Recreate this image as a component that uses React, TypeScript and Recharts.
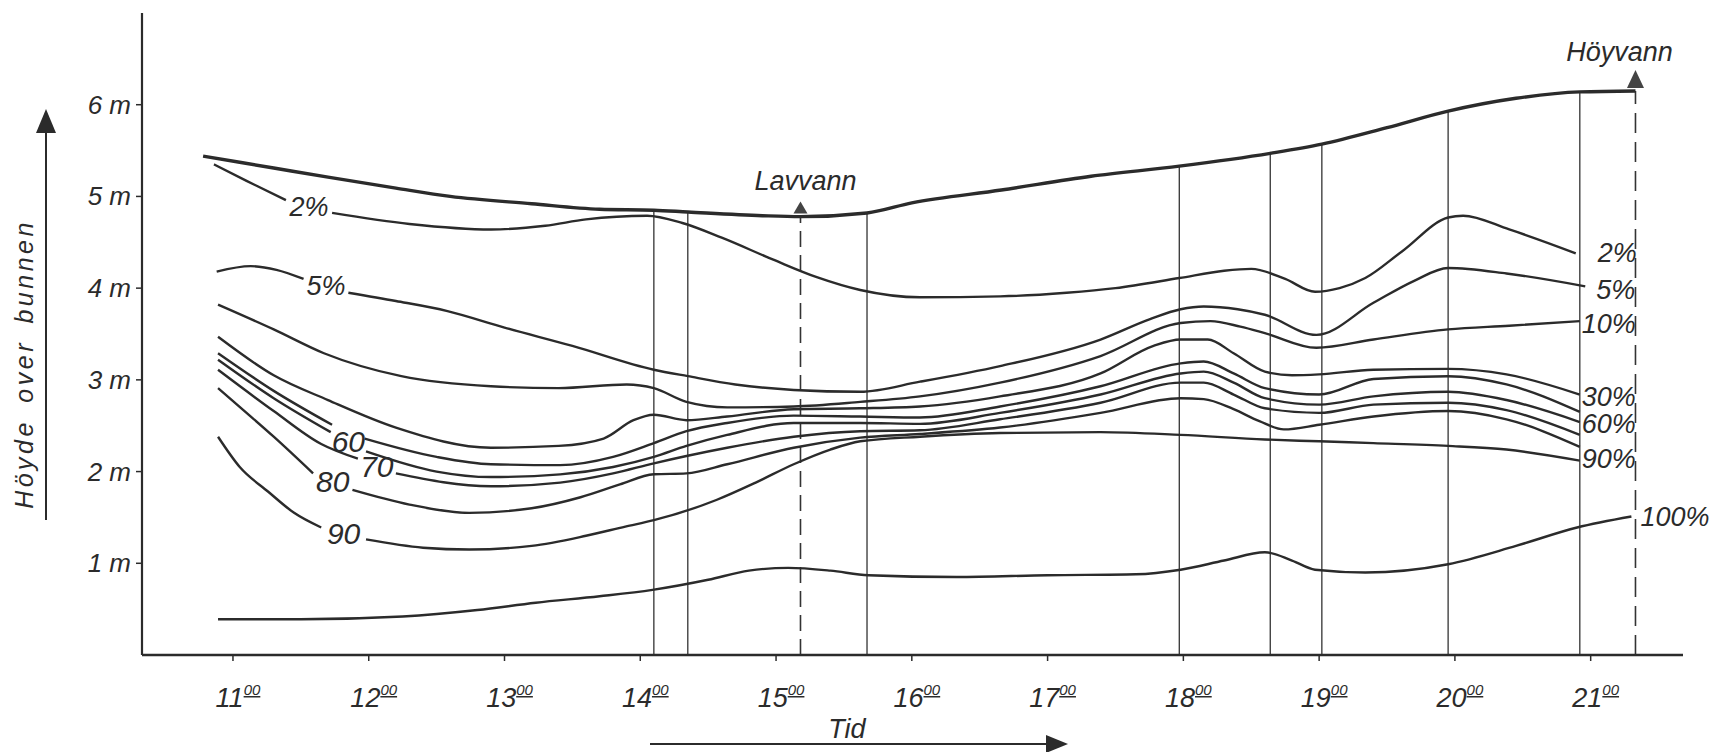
import React from 'react';
import { LineChart, Line, XAxis, YAxis, ReferenceLine, ReferenceDot } from 'recharts';

type Pt = [number, number | null];

// time (decimal hours), height over the bottom (m); null = break in the line for a label
const hourTicks = [11, 12, 13, 14, 15, 16, 17, 18, 19, 20, 21];
const meterTicks = [1, 2, 3, 4, 5, 6];

const vannflate: Pt[] = [
  [10.78, 5.44], [11.3, 5.31], [11.7, 5.21], [12.2, 5.09], [12.6, 5.0], [13.2, 4.92], [13.7, 4.86],
  [14.1, 4.85], [14.35, 4.83], [14.9, 4.79], [15.18, 4.78], [15.67, 4.82], [16.0, 4.93], [16.66, 5.07],
  [17.32, 5.22], [17.97, 5.33], [18.64, 5.47], [19.02, 5.57], [19.5, 5.75], [19.95, 5.93], [20.45, 6.07],
  [20.92, 6.14], [21.33, 6.15],
];

const p2: Pt[] = [
  [10.86, 5.35], [11.1, 5.17], [11.39, 4.96], [11.56, null], [11.73, 4.82], [12.3, 4.7], [12.9, 4.64],
  [13.3, 4.68], [13.6, 4.75], [14.05, 4.79], [14.31, 4.71], [14.6, 4.55], [14.98, 4.31], [15.3, 4.12],
  [15.62, 3.98], [16.06, 3.9], [16.65, 3.91], [17.14, 3.95], [17.5, 4.0], [17.97, 4.11], [18.3, 4.19],
  [18.5, 4.21], [18.75, 4.1], [18.97, 3.96], [19.15, 4.0], [19.34, 4.11], [19.61, 4.4], [19.95, 4.77],
  [20.06, 4.79], [20.4, 4.64], [20.89, 4.38],
];

const p5: Pt[] = [
  [10.88, 4.18], [11.13, 4.24], [11.32, 4.2], [11.52, 4.1], [11.68, null], [11.85, 3.95], [12.2, 3.86],
  [12.58, 3.75], [13.0, 3.57], [13.5, 3.37], [14.1, 3.11], [14.35, 3.04], [14.7, 2.95], [15.13, 2.89],
  [15.62, 2.87], [16.06, 2.98], [16.65, 3.15], [17.39, 3.44], [17.75, 3.66], [17.98, 3.77], [18.15, 3.8],
  [18.4, 3.77], [18.6, 3.71], [18.98, 3.49], [19.4, 3.84], [19.7, 4.08], [19.95, 4.22], [20.38, 4.16],
  [20.96, 4.02],
];

const p10: Pt[] = [
  [10.89, 3.82], [11.3, 3.55], [11.67, 3.29], [12.24, 3.04], [12.9, 2.93], [13.4, 2.91], [13.9, 2.95],
  [14.1, 2.91], [14.34, 2.76], [14.64, 2.7], [15.13, 2.71], [15.62, 2.76], [16.06, 2.82], [16.65, 2.97],
  [17.39, 3.26], [17.98, 3.62], [18.2, 3.64], [18.42, 3.58], [18.6, 3.51], [18.98, 3.35], [19.4, 3.44],
  [19.95, 3.55], [20.4, 3.59], [20.92, 3.64],
];

const p30: Pt[] = [
  [10.89, 3.47], [11.3, 3.05], [11.7, 2.78], [12.2, 2.48], [12.9, 2.26], [13.4, 2.28], [13.73, 2.36],
  [13.95, 2.56], [14.1, 2.62], [14.34, 2.56], [14.64, 2.6], [15.13, 2.68], [15.62, 2.69], [16.06, 2.71],
  [16.65, 2.82], [17.39, 3.07], [17.78, 3.37], [17.98, 3.44], [18.18, 3.44], [18.37, 3.29], [18.6, 3.09],
  [18.8, 3.05], [19.0, 3.06], [19.4, 3.11], [19.95, 3.12], [20.38, 3.06], [20.92, 2.84],
];

const p50: Pt[] = [
  [10.89, 3.29], [11.3, 2.88], [11.73, 2.51], [11.85, null], [11.97, 2.36], [12.5, 2.16], [12.9, 2.08],
  [13.41, 2.07], [13.8, 2.16], [14.1, 2.31], [14.34, 2.44], [14.64, 2.53], [15.13, 2.61], [15.62, 2.6],
  [16.06, 2.59], [16.65, 2.71], [17.39, 2.93], [17.98, 3.18], [18.15, 3.2], [18.37, 3.07], [18.6, 2.91],
  [19.0, 2.84], [19.4, 3.01], [19.95, 3.04], [20.38, 2.95], [20.92, 2.65],
];

const p60: Pt[] = [
  [10.89, 3.22], [11.3, 2.8], [11.72, 2.43], [11.85, null], [11.98, 2.22], [12.5, 2.0], [12.9, 1.94],
  [13.41, 1.97], [13.8, 2.05], [14.1, 2.16], [14.34, 2.28], [14.64, 2.4], [15.13, 2.53], [15.62, 2.53],
  [16.06, 2.52], [16.65, 2.64], [17.39, 2.84], [17.98, 3.07], [18.15, 3.09], [18.37, 2.97], [18.6, 2.8],
  [19.0, 2.73], [19.4, 2.82], [19.95, 2.87], [20.38, 2.78], [20.92, 2.54],
];

const p70: Pt[] = [
  [10.89, 3.11], [11.3, 2.66], [11.65, 2.3], [11.92, 2.14], [12.06, null], [12.2, 1.98], [12.9, 1.84],
  [13.41, 1.88], [13.8, 1.98], [14.1, 2.09], [14.34, 2.17], [14.64, 2.26], [15.13, 2.38], [15.62, 2.44],
  [16.06, 2.45], [16.65, 2.57], [17.39, 2.75], [17.98, 2.97], [18.15, 2.97], [18.37, 2.84], [18.6, 2.69],
  [19.0, 2.64], [19.4, 2.73], [19.95, 2.75], [20.38, 2.67], [20.92, 2.4],
];

const p80: Pt[] = [
  [10.89, 2.91], [11.1, 2.64], [11.3, 2.38], [11.59, 1.98], [11.73, null], [11.88, 1.8], [12.3, 1.64],
  [12.74, 1.55], [13.2, 1.6], [13.56, 1.72], [13.85, 1.86], [14.1, 1.97], [14.34, 1.98], [14.64, 2.08],
  [15.13, 2.26], [15.62, 2.37], [16.06, 2.41], [16.65, 2.48], [17.39, 2.64], [17.98, 2.8], [18.15, 2.79],
  [18.37, 2.68], [18.56, 2.55], [18.74, 2.46], [19.0, 2.51], [19.4, 2.6], [19.95, 2.66], [20.38, 2.57],
  [20.92, 2.27],
];

const p90: Pt[] = [
  [10.89, 2.38], [11.05, 2.05], [11.26, 1.78], [11.45, 1.55], [11.65, 1.39], [11.81, null], [11.98, 1.26],
  [12.4, 1.17], [12.74, 1.15], [13.2, 1.19], [13.6, 1.3], [13.89, 1.4], [14.1, 1.47], [14.56, 1.69],
  [14.85, 1.88], [15.13, 2.08], [15.4, 2.24], [15.62, 2.33], [16.06, 2.38], [16.65, 2.42], [17.39, 2.43],
  [17.98, 2.4], [18.6, 2.35], [19.0, 2.33], [19.4, 2.31], [19.95, 2.28], [20.38, 2.24], [20.92, 2.12],
];

const p100: Pt[] = [
  [10.89, 0.39], [11.5, 0.39], [12.25, 0.42], [12.8, 0.49], [13.23, 0.57], [13.7, 0.64], [14.09, 0.71],
  [14.5, 0.82], [14.8, 0.92], [15.09, 0.95], [15.4, 0.92], [15.68, 0.87], [16.33, 0.85], [17.0, 0.87],
  [17.65, 0.88], [17.98, 0.93], [18.3, 1.03], [18.6, 1.12], [18.8, 1.03], [18.97, 0.93], [19.34, 0.9],
  [19.95, 0.99], [20.45, 1.19], [20.9, 1.39], [21.3, 1.51],
];

// sounding times (vertical lines)
const lodninger = [14.1, 14.35, 15.18, 15.67, 17.97, 18.64, 19.02, 19.95, 20.92, 21.33];
const lavvannTid = 15.18;
const hoyvannTid = 21.33;

const FONT = "'Liberation Sans', Arial, sans-serif";
const INK = '#2b2b2b';

type Serie = {
  key: string;
  pts: Pt[];
  width?: number;
  gapLabel?: string;
  endLabel?: string;
  endDx?: number;
  endDy?: number;
};

const series: Serie[] = [
  { key: 'flate', pts: vannflate, width: 3.4 },
  { key: 'p2', pts: p2, gapLabel: '2%', endLabel: '2%', endDx: 22 },
  { key: 'p5', pts: p5, gapLabel: '5%', endLabel: '5%', endDx: 11, endDy: 4 },
  { key: 'p10', pts: p10, endLabel: '10%', endDx: 2, endDy: 3 },
  { key: 'p30', pts: p30, endLabel: '30%', endDx: 2, endDy: 2 },
  { key: 'p50', pts: p50 },
  { key: 'p60', pts: p60, gapLabel: '60', endLabel: '60%', endDx: 2, endDy: 2 },
  { key: 'p70', pts: p70, gapLabel: '70' },
  { key: 'p80', pts: p80, gapLabel: '80' },
  { key: 'p90', pts: p90, gapLabel: '90', endLabel: '90%', endDx: 2, endDy: -2 },
  { key: 'p100', pts: p100, endLabel: '100%', endDx: 9 },
];

const rows = (pts: Pt[]) => pts.map(([t, h]) => ({ t, h }));

const surfaceAt = (t: number) => {
  const hit = vannflate.find((p) => p[0] === t);
  if (hit) return hit[1] as number;
  for (let i = 1; i < vannflate.length; i++) {
    const [t0, h0] = vannflate[i - 1];
    const [t1, h1] = vannflate[i];
    if (t >= t0 && t <= t1) return (h0 as number) + (((h1 as number) - (h0 as number)) * (t - t0)) / (t1 - t0);
  }
  return vannflate[vannflate.length - 1][1] as number;
};

const gapPoint = (pts: Pt[]) => {
  const i = pts.findIndex((p) => p[1] === null);
  const a = pts[i - 1];
  const b = pts[i + 1];
  return { t: (a[0] + b[0]) / 2, h: ((a[1] as number) + (b[1] as number)) / 2 };
};

const HourTick = (props: any) => {
  const { x, y, payload } = props;
  return (
    <text x={x + 5} y={y + 44} textAnchor="middle" fontFamily={FONT} fontStyle="italic" fontSize={27} fill={INK}>
      {payload.value}
      <tspan fontSize={15} dy={-12} textDecoration="underline">00</tspan>
    </text>
  );
};

const MeterTick = (props: any) => {
  const { x, y, payload } = props;
  return (
    <text x={x - 3} y={y} textAnchor="end" dominantBaseline="central" fontFamily={FONT} fontStyle="italic" fontSize={26} fill={INK}>
      {payload.value} m
    </text>
  );
};

const YTitle = (props: any) => {
  const vb = props.viewBox || { x: 82, y: 13, height: 642 };
  const tx = vb.x - 58;
  const ax = vb.x - 36;
  return (
    <g>
      <text
        x={tx}
        y={364}
        transform={`rotate(-90, ${tx}, 364)`}
        textAnchor="middle"
        dominantBaseline="central"
        fontFamily={FONT}
        fontStyle="italic"
        fontSize={25}
        letterSpacing={3.5}
        wordSpacing={6}
        fill={INK}
      >
        Höyde over bunnen
      </text>
      <line x1={ax} y1={520} x2={ax} y2={132} stroke={INK} strokeWidth={2} />
      <path d={`M${ax - 10},${133} L${ax + 10},${133} L${ax},${109} Z`} fill={INK} />
    </g>
  );
};

const XTitle = (props: any) => {
  const vb = props.viewBox || { x: 142, y: 655, width: 1541 };
  const x0 = vb.x + 508;
  const x1 = vb.x + 906;
  const ly = vb.y + 89;
  return (
    <g>
      <text x={vb.x + 705} y={vb.y + 83} textAnchor="middle" fontFamily={FONT} fontStyle="italic" fontSize={27} fill={INK}>
        Tid
      </text>
      <line x1={x0} y1={ly} x2={x1} y2={ly} stroke={INK} strokeWidth={2} />
      <path d={`M${x1 - 2},${ly - 9} L${x1 - 2},${ly + 9} L${x1 + 20},${ly} Z`} fill={INK} />
    </g>
  );
};

const textShape = (text: string, dx: number, dy: number, anchor: 'start' | 'middle', size: number) => (p: any) => (
  <text
    x={p.cx + dx}
    y={p.cy + dy}
    textAnchor={anchor}
    dominantBaseline="central"
    fontFamily={FONT}
    fontStyle="italic"
    fontSize={size}
    fill={INK}
  >
    {text}
  </text>
);

const markerShape = (text: string, w: number, hgt: number, textDx: number, textDy: number) => (p: any) => (
  <g>
    <path d={`M${p.cx - w / 2},${p.cy - 3} L${p.cx + w / 2},${p.cy - 3} L${p.cx},${p.cy - 3 - hgt} Z`} fill="#444" />
    <text x={p.cx + textDx} y={p.cy + textDy} textAnchor="middle" fontFamily={FONT} fontStyle="italic" fontSize={27} fill={INK}>
      {text}
    </text>
  </g>
);

export default function App() {
  return (
    <div style={{ position: 'absolute', left: 0, top: 0, width: 1713, height: 752, background: '#fff' }}>
      <LineChart width={1713} height={752} margin={{ top: 13, right: 30, bottom: 47, left: 82 }}>
        <XAxis
          type="number"
          dataKey="t"
          domain={[10.33, 21.68]}
          allowDataOverflow
          ticks={hourTicks}
          tick={<HourTick />}
          tickSize={6}
          height={50}
          axisLine={{ stroke: INK, strokeWidth: 2.4 }}
          tickLine={{ stroke: INK, strokeWidth: 1.5 }}
          label={<XTitle />}
        />
        <YAxis
          type="number"
          dataKey="h"
          domain={[0, 7]}
          allowDataOverflow
          ticks={meterTicks}
          tick={<MeterTick />}
          tickSize={6}
          width={60}
          axisLine={{ stroke: INK, strokeWidth: 2.2 }}
          tickLine={{ stroke: INK, strokeWidth: 1.5 }}
          label={<YTitle />}
        />

        {lodninger.map((t) => (
          <ReferenceLine
            key={`v${t}`}
            segment={[{ x: t, y: 0 }, { x: t, y: surfaceAt(t) }]}
            stroke="#333"
            strokeWidth={t === lavvannTid || t === hoyvannTid ? 1.6 : 1.3}
            strokeDasharray={t === lavvannTid ? '16 8' : t === hoyvannTid ? '20 9' : undefined}
          />
        ))}

        {series.map((s) => (
          <Line
            key={s.key}
            data={rows(s.pts)}
            dataKey="h"
            type="monotone"
            stroke={INK}
            strokeWidth={s.width ?? 2.4}
            dot={false}
            activeDot={false}
            connectNulls={false}
            isAnimationActive={false}
          />
        ))}

        {series
          .filter((s) => s.gapLabel)
          .map((s) => {
            const g = gapPoint(s.pts);
            return (
              <ReferenceDot
                key={`g${s.key}`}
                x={g.t}
                y={g.h}
                r={0}
                ifOverflow="visible"
                shape={textShape(s.gapLabel as string, 0, 0, 'middle', s.gapLabel!.includes('%') ? 27 : 30)}
              />
            );
          })}

        {series
          .filter((s) => s.endLabel)
          .map((s) => {
            const last = s.pts[s.pts.length - 1];
            return (
              <ReferenceDot
                key={`e${s.key}`}
                x={last[0]}
                y={last[1] as number}
                r={0}
                ifOverflow="visible"
                shape={textShape(s.endLabel as string, s.endDx ?? 4, s.endDy ?? 0, 'start', 27)}
              />
            );
          })}

        <ReferenceDot
          x={lavvannTid}
          y={surfaceAt(lavvannTid)}
          r={0}
          ifOverflow="visible"
          shape={markerShape('Lavvann', 14, 12, 5, -27)}
        />
        <ReferenceDot
          x={hoyvannTid}
          y={surfaceAt(hoyvannTid)}
          r={0}
          ifOverflow="visible"
          shape={markerShape('Höyvann', 17, 18, -16, -30)}
        />
      </LineChart>
    </div>
  );
}
